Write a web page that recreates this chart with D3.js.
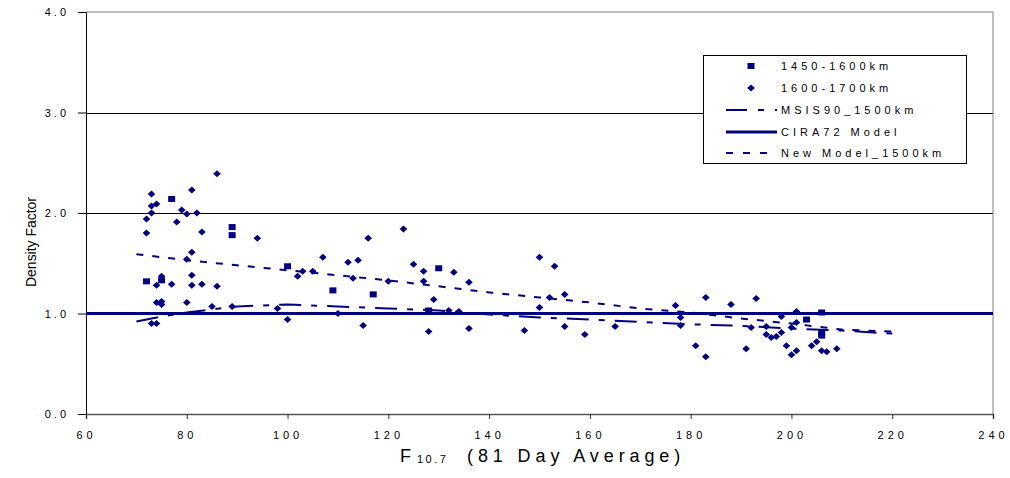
<!DOCTYPE html>
<html>
<head>
<meta charset="utf-8">
<script src="https://cdn.jsdelivr.net/npm/d3@7"></script>
<style>
  html, body { margin: 0; padding: 0; background: #fff; }
  svg { display: block; font-family: "Liberation Sans", Arial, sans-serif; }
</style>
</head>
<body>
<svg id="chart" width="1010" height="478"></svg>
<script>
// Observed density factor, 1450-1600 km band (squares)
const band1F107 = [72, 77, 75, 89, 89, 100, 109, 117, 128, 130, 203, 206, 206, 206];
const band1Density = [1.32, 2.14, 1.33, 1.86, 1.78, 1.47, 1.23, 1.19, 1.03, 1.45, 0.94, 1.01, 0.81, 0.78];

// Observed density factor, 1600-1700 km band (diamonds)
const band2F107 = [
  86, 73, 81, 73, 74, 73, 79, 80, 82, 72, 78, 72, 83, 94, 81, 80, 75, 74, 77, 81,
  81, 83, 86, 74, 75, 75, 80, 85, 89, 98, 73, 74, 100, 102, 103, 105, 107, 112, 114, 116,
  123, 125, 127, 133, 136, 113, 120, 127, 129, 132, 134, 110, 115, 128, 136, 150, 153, 152, 155, 150,
  147, 155, 159, 165, 177, 178, 178, 181, 183, 188, 193, 183, 191, 192, 198, 201, 201, 200, 195, 195,
  196, 197, 198, 205, 204, 199, 201, 200, 206, 207, 209
];
const band2Density = [
  2.39, 2.19, 2.23, 2.07, 2.09, 2.00, 2.03, 1.99, 2.00, 1.94, 1.91, 1.80, 1.81, 1.75, 1.61, 1.54, 1.37, 1.28, 1.29, 1.38,
  1.28, 1.29, 1.27, 1.11, 1.12, 1.09, 1.11, 1.07, 1.07, 1.05, 0.90, 0.90, 0.94, 1.37, 1.42, 1.42, 1.56, 1.51, 1.53, 1.75,
  1.84, 1.49, 1.42, 1.41, 1.31, 1.35, 1.32, 1.32, 1.14, 1.03, 1.02, 1.00, 0.88, 0.82, 0.85, 1.56, 1.47, 1.16, 1.19, 1.06,
  0.83, 0.87, 0.79, 0.87, 1.08, 0.96, 0.88, 0.68, 1.16, 1.09, 1.15, 0.57, 0.65, 0.86, 0.97, 1.02, 0.91, 0.86, 0.87, 0.79,
  0.76, 0.77, 0.81, 0.72, 0.68, 0.68, 0.63, 0.59, 0.63, 0.62, 0.65
];

// Model curves
const msisF107 = [70, 75, 80, 90, 100, 110, 120, 130, 140, 150, 160, 170, 180, 190, 200, 210, 220];
const msisDensity = [0.92, 0.97, 1.01, 1.07, 1.09, 1.07, 1.05, 1.03, 0.99, 0.96, 0.94, 0.915, 0.893, 0.877, 0.85, 0.83, 0.80];

const ciraF107 = [60, 240];
const ciraDensity = [1.0, 1.0];

const newF107 = [70, 80, 90, 100, 110, 120, 130, 140, 150, 160, 170, 180, 190, 200, 210, 220];
const newDensity = [1.59, 1.53, 1.48, 1.43, 1.38, 1.33, 1.27, 1.21, 1.16, 1.11, 1.05, 1.01, 0.95, 0.90, 0.84, 0.82];

const xTicks = [60, 80, 100, 120, 140, 160, 180, 200, 220, 240];
const yTicks = [0, 1, 2, 3, 4];
const gridValues = [1, 2, 3];

const legendLabels = ["1450-1600km", "1600-1700km", "MSIS90_1500km", "CIRA72 Model", "New Model_1500km"];

const navy = "#000080";
const svg = d3.select("#chart");

const x = d3.scaleLinear().domain([60, 240]).range([86, 993]);
const y = d3.scaleLinear().domain([0, 4]).range([414, 12]);

// plot frame (top and right edges)
svg.append("path")
  .attr("d", `M${x(60)},${y(4)}H${x(240)}V${y(0)}`)
  .attr("fill", "none").attr("stroke", "#808080").attr("stroke-width", 1);

// horizontal gridlines
svg.append("g").selectAll("line").data(gridValues).join("line")
  .attr("x1", x(60)).attr("x2", x(240))
  .attr("y1", d => Math.round(y(d)) + 0.5).attr("y2", d => Math.round(y(d)) + 0.5)
  .attr("stroke", "#000").attr("stroke-width", 1);

// y axis
const yAxis = svg.append("g")
  .attr("transform", `translate(${x(60)},0)`)
  .call(d3.axisLeft(y).tickValues(yTicks).tickFormat(d3.format(".1f")).tickSize(8).tickPadding(9));
yAxis.select(".domain").attr("stroke", "#000");
yAxis.selectAll(".tick line").attr("stroke", "#000");
yAxis.selectAll("text").attr("font-size", 11).attr("letter-spacing", 3)
  .attr("fill", "#000").attr("font-family", "Liberation Sans, Arial, sans-serif");

// x axis
const xAxis = svg.append("g")
  .attr("transform", `translate(0,${y(0)})`)
  .call(d3.axisBottom(x).tickValues(xTicks).tickFormat(d3.format("d")).tickSize(5).tickPadding(12));
xAxis.select(".domain").attr("stroke", "#555").attr("stroke-width", 1.5);
xAxis.selectAll(".tick line").attr("stroke", "#333");
xAxis.selectAll("text").attr("font-size", 11).attr("letter-spacing", 4)
  .attr("fill", "#000").attr("font-family", "Liberation Sans, Arial, sans-serif");

// axis titles
const xt = svg.append("text").attr("y", 462).attr("fill", "#000");
xt.append("tspan").attr("x", 400).attr("font-size", 18).text("F");
xt.append("tspan").attr("x", 417).attr("dy", 1).attr("font-size", 11).attr("letter-spacing", 2.5).text("10.7");
xt.append("tspan").attr("x", 467).attr("dy", -1).attr("font-size", 18).attr("letter-spacing", 4.9).text("(81 Day Average)");

const yTitle = svg.append("text")
  .attr("transform", "translate(36,242) rotate(-90)")
  .attr("text-anchor", "middle")
  .attr("font-size", 14).attr("fill", "#000")
  .text("Density Factor");
// size the title so it spans about 90px along the axis
const yTitleLen = yTitle.node().getComputedTextLength();
if (yTitleLen > 0) yTitle.attr("font-size", 14 * 90 / yTitleLen);

// model lines
const line = d3.line().x(d => x(d[0])).y(d => y(d[1]));

svg.append("path")
  .datum(ciraF107.map((v, i) => [v, ciraDensity[i]]))
  .attr("d", line).attr("fill", "none").attr("stroke", navy).attr("stroke-width", 3);

svg.append("path")
  .datum(msisF107.map((v, i) => [v, msisDensity[i]]))
  .attr("d", line).attr("fill", "none").attr("stroke", navy).attr("stroke-width", 2)
  .attr("stroke-dasharray", "22,10,6,10");

svg.append("path")
  .datum(newF107.map((v, i) => [v, newDensity[i]]))
  .attr("d", line).attr("fill", "none").attr("stroke", navy).attr("stroke-width", 2)
  .attr("stroke-dasharray", "7,9");

// observations
const diamond = "M0,-3.5L3.8,0L0,3.5L-3.8,0Z";
svg.append("g").selectAll("path")
  .data(band2F107.map((v, i) => [v, band2Density[i]]))
  .join("path")
  .attr("transform", d => `translate(${x(d[0])},${y(d[1])})`)
  .attr("d", diamond).attr("fill", navy);

svg.append("g").selectAll("rect")
  .data(band1F107.map((v, i) => [v, band1Density[i]]))
  .join("rect")
  .attr("x", d => x(d[0]) - 3.5).attr("y", d => y(d[1]) - 3)
  .attr("width", 7).attr("height", 6).attr("fill", navy);

// legend
const lg = svg.append("g");
lg.append("rect").attr("x", 703.5).attr("y", 55.5).attr("width", 263).attr("height", 108)
  .attr("fill", "#fff").attr("stroke", "#000").attr("stroke-width", 1);

const rowY = [66, 88, 110, 132, 153];
lg.selectAll("text").data(legendLabels).join("text")
  .attr("x", 781).attr("y", (d, i) => rowY[i] + 4)
  .attr("font-size", 11).attr("letter-spacing", 4).attr("fill", "#000")
  .text(d => d);

lg.append("rect").attr("x", 747.5).attr("y", rowY[0] - 3).attr("width", 7).attr("height", 6).attr("fill", navy);
lg.append("path").attr("transform", `translate(751,${rowY[1]})`).attr("d", diamond).attr("fill", navy);
lg.append("line").attr("x1", 726).attr("x2", 777).attr("y1", rowY[2]).attr("y2", rowY[2])
  .attr("stroke", navy).attr("stroke-width", 2).attr("stroke-dasharray", "21,11,6,11");
lg.append("line").attr("x1", 726).attr("x2", 777).attr("y1", rowY[3]).attr("y2", rowY[3])
  .attr("stroke", navy).attr("stroke-width", 3);
lg.append("line").attr("x1", 726).attr("x2", 770).attr("y1", rowY[4]).attr("y2", rowY[4])
  .attr("stroke", navy).attr("stroke-width", 2).attr("stroke-dasharray", "7,10");
</script>
</body>
</html>
